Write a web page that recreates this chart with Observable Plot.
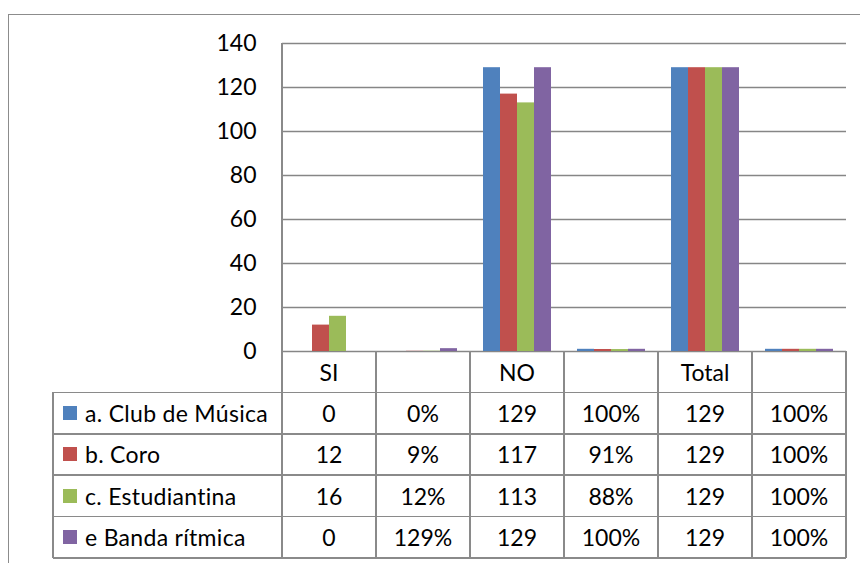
<!DOCTYPE html>
<html>
<head>
<meta charset="utf-8">
<script src="https://cdn.jsdelivr.net/npm/d3@7"></script>
<script src="https://cdn.jsdelivr.net/npm/@observablehq/plot@0.6"></script>
<style>
  html, body { margin: 0; padding: 0; background: #fff; }
  #wrap { position: relative; width: 860px; height: 563px; overflow: hidden; font-family: Lato, sans-serif; color: #000; }
  #frame { position: absolute; left: 8px; top: 14px; width: 900px; height: 600px; border: 1.5px solid #8c8c8c; box-sizing: border-box; }
  #chart { position: absolute; left: 0; top: 0; }
  .ln { position: absolute; background: #8a8a8a; }
  .cell { position: absolute; display: flex; align-items: center; justify-content: center; font-size: 23px; white-space: nowrap; }
  .leg { position: absolute; display: flex; align-items: center; font-size: 23px; white-space: nowrap; letter-spacing: 0.3px; }
  .sw { display: inline-block; width: 14px; height: 14px; margin-right: 8px; }
</style>
</head>
<body>
<div id="wrap"><div id="frame"></div><div id="chart"></div></div>
<script>
// ---- data ----
const categories = ["SI", "", "NO", "", "Total", ""];
const isPercent = [false, true, false, true, false, true];
const seriesNames = ["a. Club de Música", "b. Coro", "c. Estudiantina", "e Banda rítmica"];
const clubMusica   = [0, 0,    129, 1,    129, 1];
const coro         = [12, 0.09, 117, 0.91, 129, 1];
const estudiantina = [16, 0.12, 113, 0.88, 129, 1];
const bandaRitmica = [0, 1.29, 129, 1,    129, 1];
const seriesColors = ["#4F81BD", "#C0504D", "#9BBB59", "#8064A2"];
const yTicks = [0, 20, 40, 60, 80, 100, 120, 140];

const seriesValues = [clubMusica, coro, estudiantina, bandaRitmica];
const rows = [];
seriesValues.forEach((vals, s) => vals.forEach((v, i) => rows.push({cat: i, series: s, value: v})));

const step = 94;
const pad = 13;
const barW = (step - 2 * pad) / 4;

const chart = Plot.plot({
  width: 860,
  height: 563,
  marginLeft: 282,
  marginRight: 14,
  marginTop: 43,
  marginBottom: 212,
  style: {fontFamily: "Lato, sans-serif", fontSize: "23px", color: "#000", background: "transparent"},
  x: {type: "band", domain: d3.range(categories.length), padding: 0, axis: null},
  y: {domain: [0, 140], ticks: yTicks, tickSize: 0, tickPadding: 26, label: null},
  marks: [
    Plot.ruleY(yTicks, {stroke: "#868686", strokeWidth: 1.4}),
    ...seriesColors.map((c, s) => Plot.barY(rows.filter(d => d.series === s), {
      x: "cat", y: "value", fill: c,
      insetLeft: pad + barW * s, insetRight: step - pad - barW * (s + 1)
    }))
  ]
});
document.getElementById("chart").appendChild(chart);

// ---- data table below the axis, aligned with the x scale ----
const wrap = document.getElementById("wrap");
const xs = chart.scale("x");
const ys = chart.scale("y");
const colEdges = d3.range(categories.length).map(i => xs.apply(i));
colEdges.push(xs.apply(categories.length - 1) + xs.bandwidth);
const tableLeft = 53;
const y0 = ys.apply(0);
const rowH = 41.4;
const rowEdges = d3.range(seriesNames.length + 2).map(r => y0 + r * rowH);
const lw = 1.5;

function line(x, y, w, h) {
  const d = document.createElement("div");
  d.className = "ln";
  Object.assign(d.style, {left: x + "px", top: y + "px", width: w + "px", height: h + "px"});
  wrap.appendChild(d);
}
// vertical lines
line(colEdges[0] - lw / 2, ys.apply(140), lw, rowEdges[rowEdges.length - 1] - ys.apply(140));
colEdges.slice(1).forEach(x => line(x - lw / 2, y0, lw, rowEdges[rowEdges.length - 1] - y0));
line(tableLeft - lw / 2, rowEdges[1], lw, rowEdges[rowEdges.length - 1] - rowEdges[1]);
// horizontal lines
rowEdges.slice(1).forEach(y => line(tableLeft, y - lw / 2, colEdges[colEdges.length - 1] - tableLeft, lw));

function cell(text, x0, x1, r0, r1) {
  const d = document.createElement("div");
  d.className = "cell";
  Object.assign(d.style, {left: x0 + "px", top: r0 + "px", width: (x1 - x0) + "px", height: (r1 - r0) + "px"});
  d.textContent = text;
  wrap.appendChild(d);
}
categories.forEach((c, i) => cell(c, colEdges[i], colEdges[i + 1], rowEdges[0], rowEdges[1]));
const fmtPct = d3.format(".0%");
seriesNames.forEach((name, s) => {
  const r0 = rowEdges[s + 1], r1 = rowEdges[s + 2];
  const lg = document.createElement("div");
  lg.className = "leg";
  Object.assign(lg.style, {left: (tableLeft + 10) + "px", top: r0 + "px", height: (r1 - r0) + "px"});
  const sw = document.createElement("span");
  sw.className = "sw";
  sw.style.background = seriesColors[s];
  lg.appendChild(sw);
  lg.appendChild(document.createTextNode(name));
  wrap.appendChild(lg);
  seriesValues[s].forEach((v, i) => cell(isPercent[i] ? fmtPct(v) : String(v), colEdges[i], colEdges[i + 1], r0, r1));
});
</script>
</body>
</html>
